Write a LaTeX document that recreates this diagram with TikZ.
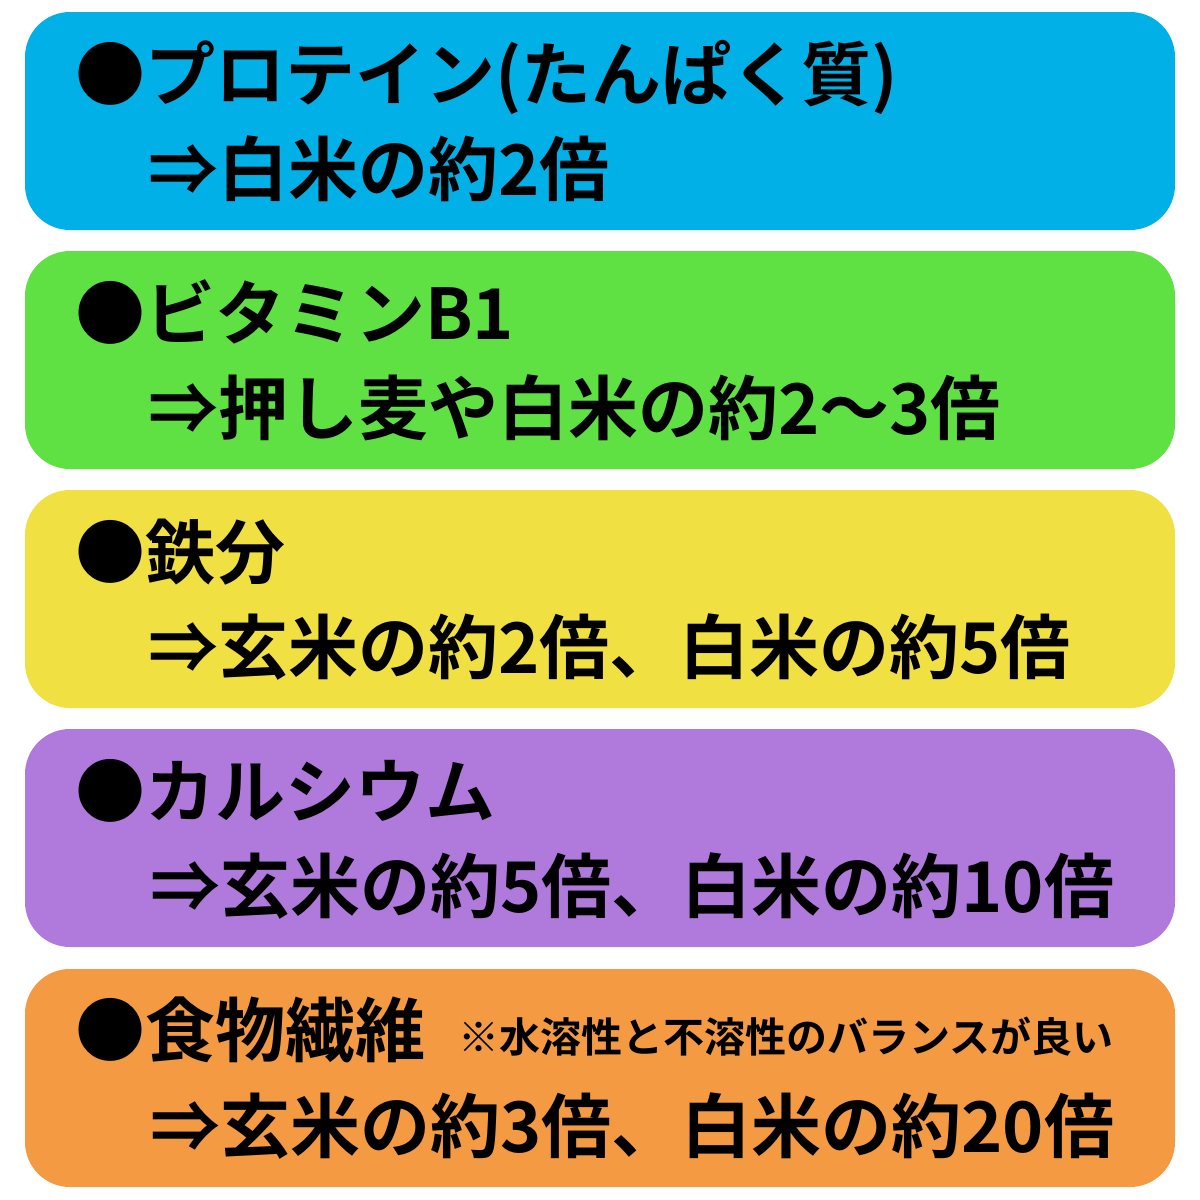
\documentclass[tikz,border=0pt]{standalone}
\usepackage{fontspec}
\setmainfont{Noto Sans CJK JP}[BoldFont={Noto Sans CJK JP Bold}]
\definecolor{c1}{HTML}{00B0E6}
\definecolor{c2}{HTML}{5FE043}
\definecolor{c3}{HTML}{F0E042}
\definecolor{c4}{HTML}{B07ADC}
\definecolor{c5}{HTML}{F39A42}
\tikzset{box/.style={rounded corners=45pt,minimum width=1150pt,minimum height=218pt,draw=none,inner sep=0},
 txt/.style={anchor=base west,inner sep=0,font=\bfseries\fontsize{70}{70}\selectfont},
 note/.style={anchor=base west,inner sep=0,font=\bfseries\fontsize{41}{41}\selectfont}}
\begin{document}
\begin{tikzpicture}[x=1pt,y=-1pt]
\useasboundingbox (0,0) rectangle (1200,1200);
\fill[white] (0,0) rectangle (1200,1200);
\node[box,fill=c1] (b1) at (600,121) {};
\node[box,fill=c2] (b2) at (600,360) {};
\node[box,fill=c3] (b3) at (600,599) {};
\node[box,fill=c4] (b4) at (600,838) {};
\node[box,fill=c5] (b5) at (600,1078) {};
\node[txt] (t1a) at (75,100) {●プロテイン(たんぱく質)};
\node[txt] (t1b) at (148,195) {⇒白米の約2倍};
\node[txt] (t2a) at (75,339) {●ビタミンB1};
\node[txt] (t2b) at (148,434) {⇒押し麦や白米の約2〜3倍};
\node[txt] (t3a) at (75,578) {●鉄分};
\node[txt] (t3b) at (148,673) {⇒玄米の約2倍、白米の約5倍};
\node[txt] (t4a) at (75,817) {●カルシウム};
\node[txt] (t4b) at (150,912) {⇒玄米の約5倍、白米の約10倍};
\node[txt] (t5a) at (75,1056) {●食物繊維};
\node[note] (t5n) at (458,1052) {※水溶性と不溶性のバランスが良い};
\node[txt] (t5b) at (150,1152) {⇒玄米の約3倍、白米の約20倍};
\end{tikzpicture}
\end{document}
